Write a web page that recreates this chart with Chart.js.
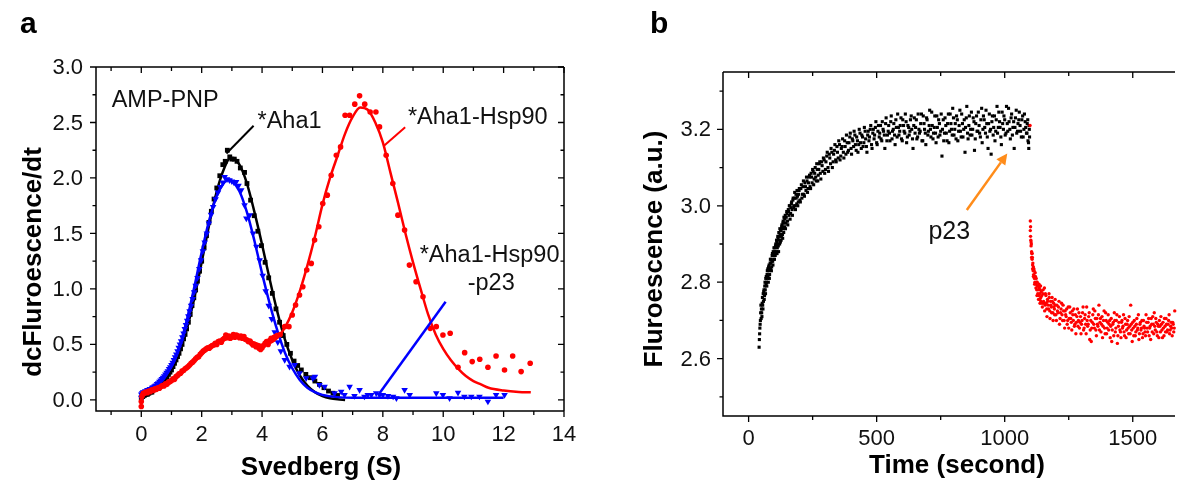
<!DOCTYPE html>
<html>
<head>
<meta charset="utf-8">
<script src="https://cdn.jsdelivr.net/npm/chart.js@4.4.1/dist/chart.umd.min.js"></script>
<style>
  html, body { margin: 0; padding: 0; background: #fff; overflow: hidden; }
  #wrap { position: relative; width: 1179px; height: 482px; }
  canvas { position: absolute; top: 0; }
  #chartSed { left: 0; }
  #chartKin { left: 600px; }
</style>
</head>
<body>
<div id="wrap">
  <canvas id="chartSed" width="600" height="482"></canvas>
  <canvas id="chartKin" width="579" height="482"></canvas>
</div>
<script>
// ---- panel a: sedimentation profiles (Svedberg vs dc/dt) ----
const sedTicksX = [0, 2, 4, 6, 8, 10, 12, 14];
const sedMinorX = [-1, 1, 3, 5, 7, 9, 11, 13];
const sedTicksY = [0, 0.5, 1.0, 1.5, 2.0, 2.5, 3.0];
const sedMinorY = [0.25, 0.75, 1.25, 1.75, 2.25, 2.75];

// *Aha1 (black squares) and its fit
const aha1Data = [
  [0.0,0.02],[0.05,0.03],[0.1,0.04],[0.15,0.05],[0.2,0.05],[0.25,0.06],[0.3,0.07],[0.35,0.07],[0.4,0.09],[0.45,0.10],
  [0.5,0.11],[0.55,0.12],[0.6,0.13],[0.65,0.14],[0.7,0.16],[0.75,0.17],[0.8,0.19],[0.85,0.21],[0.9,0.23],[0.95,0.25],
  [1.0,0.27],[1.05,0.30],[1.1,0.33],[1.15,0.36],[1.2,0.39],[1.25,0.42],[1.3,0.46],[1.35,0.50],[1.4,0.55],[1.45,0.59],
  [1.5,0.64],[1.56,0.70],[1.62,0.77],[1.68,0.85],[1.74,0.92],[1.8,0.99],[1.86,1.07],[1.93,1.16],[2.0,1.25],[2.08,1.37],
  [2.16,1.48],[2.24,1.60],[2.32,1.70],[2.41,1.81],[2.5,1.91],[2.6,2.02],[2.7,2.12],[2.78,2.15],[2.85,2.25],[2.93,2.19],
  [3.0,2.17],[3.08,2.17],[3.17,2.15],[3.28,2.09],[3.42,2.05],[3.5,1.95],[3.62,1.80],[3.74,1.66],[3.86,1.52],[3.98,1.39],
  [4.1,1.24],[4.22,1.10],[4.34,0.96],[4.46,0.82],[4.58,0.70],[4.7,0.58],[4.82,0.50],[4.94,0.42],[5.06,0.35],[5.18,0.31],
  [5.3,0.27],[5.45,0.23],[5.6,0.20],[5.75,0.17],[5.9,0.14],[6.05,0.11],[6.2,0.08],[6.35,0.06],[6.5,0.04]
];
const aha1Fit = [
  [0,0.03],[0.25,0.055],[0.5,0.10],[0.75,0.165],[1.0,0.27],[1.25,0.42],[1.5,0.63],[1.75,0.91],[2.0,1.24],[2.25,1.58],
  [2.5,1.88],[2.75,2.09],[2.95,2.18],[3.0,2.18],[3.25,2.12],[3.5,1.95],[3.75,1.69],[4.0,1.40],[4.25,1.09],[4.5,0.80],
  [4.75,0.55],[5.0,0.36],[5.25,0.22],[5.5,0.13],[5.75,0.07],[6.0,0.035],[6.25,0.015],[6.5,0.005],[6.75,0.0]
];

// *Aha1-Hsp90-p23 (blue triangles) and its fit
const p23Data = [
  [0.0,0.02],[0.0,0.05],[0.03,0.06],[0.06,0.07],[0.1,0.065],[0.13,0.08],[0.17,0.075],[0.2,0.09],[0.24,0.085],[0.28,0.10],
  [0.32,0.095],[0.36,0.11],[0.4,0.115],[0.44,0.125],[0.48,0.13],[0.52,0.145],[0.56,0.15],[0.6,0.165],[0.64,0.175],[0.68,0.19],
  [0.72,0.20],[0.76,0.215],[0.8,0.23],[0.84,0.245],[0.88,0.26],[0.92,0.28],[0.96,0.295],[1.0,0.315],[1.04,0.335],[1.08,0.36],
  [1.12,0.385],[1.16,0.41],[1.2,0.44],[1.24,0.47],[1.28,0.50],[1.32,0.53],[1.36,0.565],[1.4,0.60],[1.44,0.64],[1.48,0.675],
  [1.52,0.715],[1.56,0.755],[1.6,0.80],[1.65,0.85],[1.7,0.91],[1.75,0.97],[1.8,1.03],[1.86,1.10],[1.92,1.18],[1.98,1.26],
  [2.04,1.34],[2.1,1.42],[2.17,1.50],[2.24,1.59],[2.31,1.67],[2.38,1.74],[2.46,1.81],[2.54,1.87],[2.62,1.92],[2.7,1.96],
  [2.76,2.01],[2.84,1.99],[2.92,1.98],[3.0,1.97],[3.07,1.96],[3.14,1.965],[3.22,1.93],[3.31,1.89],[3.42,1.755],[3.48,1.635],
  [3.59,1.665],[3.7,1.50],[3.81,1.38],[3.92,1.26],[4.02,1.12],[4.12,0.98],[4.22,0.85],[4.32,0.73],[4.42,0.61],[4.52,0.52],
  [4.62,0.44],[4.75,0.36],[4.91,0.30],[5.08,0.315],[5.24,0.24],[5.46,0.195],[5.68,0.195],[5.75,0.21],[5.9,0.135],[6.07,0.12],
  [6.4,0.06],[6.62,0.075],[6.73,0.045],[6.9,0.12],[7.06,0.035],[7.23,0.09],[7.39,0.03],[7.5,0.045],[7.62,0.045],[7.78,0.06],
  [7.89,0.045],[8.0,0.045],[8.17,0.035],[8.34,0.03],[8.45,0.015],[8.72,0.09],[8.89,0.045],[9.77,0.06],[9.99,0.045],[10.21,0.015],
  [10.49,0.066],[10.7,0.03],[10.93,0.03],[11.2,0.03],[11.48,-0.015],[11.75,0.045],[12.03,0.045]
];
const p23Fit = [
  [0,0.04],[0.25,0.07],[0.5,0.12],[0.75,0.19],[1.0,0.31],[1.25,0.47],[1.5,0.71],[1.75,1.01],[2.0,1.33],[2.25,1.62],
  [2.5,1.84],[2.75,1.96],[2.9,1.985],[3.0,1.975],[3.25,1.88],[3.5,1.69],[3.75,1.43],[4.0,1.14],[4.25,0.87],[4.5,0.63],
  [4.75,0.43],[5.0,0.285],[5.25,0.18],[5.5,0.11],[5.75,0.07],[6.0,0.045],[6.5,0.025],[7.0,0.02],[8.0,0.02],[12.0,0.02]
];

// *Aha1-Hsp90 (red circles) and its fit
const hsp90Data = [
  [0.0,-0.06],[0.0,-0.015],[0.02,0.03],[0.05,0.05],[0.1,0.06],[0.15,0.07],[0.2,0.065],[0.25,0.08],[0.3,0.075],[0.35,0.09],
  [0.4,0.085],[0.45,0.10],[0.5,0.095],[0.55,0.11],[0.6,0.105],[0.65,0.12],[0.7,0.13],[0.75,0.125],[0.8,0.145],[0.85,0.14],
  [0.9,0.16],[0.95,0.165],[1.0,0.175],[1.05,0.19],[1.1,0.185],[1.15,0.21],[1.2,0.22],[1.25,0.235],[1.3,0.24],[1.35,0.26],
  [1.4,0.265],[1.45,0.28],[1.5,0.29],[1.55,0.30],[1.6,0.315],[1.65,0.33],[1.7,0.34],[1.75,0.355],[1.8,0.37],[1.85,0.385],
  [1.9,0.39],[1.95,0.41],[2.0,0.425],[2.05,0.44],[2.1,0.45],[2.15,0.46],[2.2,0.47],[2.25,0.465],[2.3,0.48],[2.35,0.49],
  [2.4,0.495],[2.45,0.51],[2.5,0.50],[2.55,0.525],[2.6,0.53],[2.65,0.52],[2.7,0.545],[2.75,0.555],[2.8,0.585],[2.85,0.56],
  [2.9,0.575],[2.95,0.555],[3.0,0.57],[3.05,0.59],[3.1,0.565],[3.15,0.585],[3.2,0.575],[3.25,0.56],[3.3,0.575],[3.35,0.555],
  [3.4,0.57],[3.45,0.545],[3.5,0.54],[3.55,0.525],[3.6,0.53],[3.65,0.51],[3.7,0.495],[3.75,0.50],[3.8,0.48],[3.85,0.49],
  [3.9,0.465],[3.95,0.455],[4.0,0.47],[4.05,0.49],[4.1,0.51],[4.15,0.525],[4.2,0.50],[4.25,0.535],[4.3,0.555],[4.35,0.545],
  [4.4,0.565],[4.45,0.57],[4.5,0.58],[4.6,0.59],[4.75,0.66],[4.89,0.66],[5.0,0.765],[5.11,0.855],[5.24,0.945],[5.35,1.02],
  [5.48,1.17],[5.63,1.23],[5.74,1.44],[5.88,1.56],[6.01,1.77],[6.16,1.845],[6.29,2.025],[6.46,2.205],[6.6,2.28],[6.75,2.565],
  [6.9,2.565],[7.07,2.665],[7.23,2.74],[7.4,2.665],[7.58,2.595],[7.77,2.595],[7.89,2.46],[8.11,2.205],[8.33,1.95],[8.5,1.665],
  [8.72,1.53],[8.88,1.215],[9.1,1.065],[9.33,0.93],[9.57,0.645],[9.77,0.66],[9.99,0.585],[10.23,0.60],[10.49,0.294],[10.71,0.426],
  [10.96,0.345],[11.21,0.366],[11.48,0.294],[11.75,0.396],[12.03,0.27],[12.3,0.396],[12.58,0.255],[12.88,0.33]
];
const hsp90Fit = [
  [0,0.07],[0.5,0.10],[1.0,0.16],[1.5,0.28],[2.0,0.41],[2.5,0.51],[3.0,0.565],[3.25,0.57],[3.5,0.55],[3.75,0.515],
  [4.0,0.495],[4.25,0.51],[4.5,0.56],[4.75,0.65],[5.0,0.79],[5.25,0.98],[5.5,1.21],[5.75,1.47],[6.0,1.76],[6.25,2.0],
  [6.5,2.2],[6.75,2.40],[7.0,2.55],[7.25,2.635],[7.5,2.615],[7.75,2.50],[8.0,2.32],[8.25,2.05],[8.5,1.78],[8.75,1.50],
  [9.0,1.24],[9.25,1.00],[9.5,0.77],[9.75,0.59],[10.0,0.46],[10.25,0.36],[10.5,0.28],[10.75,0.215],[11.0,0.17],[11.25,0.14],
  [11.5,0.11],[12.0,0.085],[12.5,0.072],[12.9,0.068]
];

// ---- panel b: fluorescence kinetics, p23 added at ~1100 s ----
const kinTicksX = [0, 500, 1000, 1500];
const kinMinorX = [250, 750, 1250];
const kinTicksY = [2.6, 2.8, 3.0, 3.2];
const kinMinorY = [2.5, 2.7, 2.9, 3.1, 3.3];

const beforeP23 = [
  [41,2.63],[42,2.65],[43,2.665],[45,2.69],[47,2.72],[49,2.705],[50,2.73],[52,2.71],[54,2.76],[55,2.74],
  [57,2.77],[58,2.75],[60,2.78],[62,2.765],[63,2.79],[65,2.78],[67,2.81],[68,2.795],[70,2.80],[72,2.82],
  [74,2.81],[75,2.835],[77,2.80],[79,2.83],[80,2.845],[82,2.82],[84,2.85],[86,2.835],[88,2.86],[90,2.84],
  [92,2.87],[94,2.855],[96,2.88],[98,2.86],[100,2.875],[102,2.89],[104,2.87],[106,2.90],[108,2.88],[110,2.905],
  [112,2.89],[114,2.92],[116,2.895],[118,2.93],[120,2.91],[122,2.94],[124,2.905],[126,2.935],[128,2.92],[130,2.95],
  [132,2.925],[134,2.955],[136,2.94],[138,2.97],[140,2.945],[143,2.975],[146,2.955],[149,2.985],[152,2.96],[155,2.99],
  [158,2.975],[161,3.0],[164,2.98],[167,3.005],[170,2.99],[173,3.015],[176,2.995],[179,3.02],[182,3.0],[185,3.03],
  [188,3.005],[191,3.025],[194,3.01],[197,3.04],[200,3.015],[204,3.045],[208,3.02],[212,3.05],[216,3.03],[220,3.06],
  [224,3.04],[228,3.065],[232,3.045],[236,3.075],[240,3.05],[244,3.085],[248,3.06],[252,3.09],[256,3.07],[260,3.10],
  [264,3.065],[268,3.095],[272,3.08],[276,3.11],[280,3.085],[285,3.115],[290,3.09],[295,3.12],[300,3.095],[305,3.13],
  [310,3.10],[315,3.135],[320,3.11],[325,3.14],[330,3.115],[335,3.145],[340,3.12],[345,3.155],[350,3.125],[355,3.16],
  [360,3.13],[365,3.155],[370,3.14],[375,3.17],[380,3.135],[385,3.165],[390,3.145],[395,3.18],[400,3.15],[405,3.175],
  [410,3.155],[415,3.185],[420,3.145],[425,3.17],[430,3.16],[435,3.19],[440,3.15],[445,3.18],[450,3.165],[455,3.195],
  [460,3.155],[465,3.185],[470,3.17],[475,3.20],[480,3.16],[485,3.19],[490,3.175],[495,3.205],[500,3.165],[505,3.195],
  [510,3.18],[515,3.21],[520,3.17],[525,3.20],[530,3.185],[535,3.215],[540,3.17],[545,3.195],[550,3.19],[555,3.22],
  [560,3.175],[565,3.20],[570,3.185],[575,3.225],[580,3.18],[585,3.205],[590,3.195],[595,3.23],[600,3.17],[605,3.21],
  [610,3.19],[615,3.22],[620,3.18],[625,3.205],[630,3.195],[635,3.235],[640,3.175],[645,3.21],[650,3.19],[655,3.225],
  [660,3.18],[665,3.20],[670,3.195],[675,3.24],[680,3.17],[685,3.215],[690,3.19],[695,3.23],[700,3.185],[705,3.21],
  [710,3.20],[715,3.245],[720,3.175],[725,3.205],[730,3.19],[735,3.235],[740,3.18],[745,3.215],[750,3.195],[755,3.13],
  [760,3.225],[765,3.19],[770,3.21],[775,3.17],[780,3.24],[785,3.195],[790,3.215],[795,3.185],[800,3.23],[805,3.20],
  [810,3.175],[815,3.225],[820,3.195],[825,3.25],[830,3.18],[835,3.215],[840,3.20],[845,3.14],[850,3.23],[855,3.19],
  [860,3.21],[865,3.185],[870,3.245],[875,3.20],[880,3.22],[885,3.175],[890,3.235],[895,3.195],[900,3.21],[905,3.18],
  [910,3.255],[915,3.20],[920,3.225],[925,3.19],[930,3.215],[935,3.15],[940,3.24],[945,3.20],[950,3.22],[955,3.185],
  [960,3.235],[965,3.195],[970,3.26],[975,3.205],[980,3.22],[985,3.18],[990,3.245],[995,3.20],[1000,3.225],[1005,3.19],
  [1010,3.215],[1015,3.255],[1020,3.20],[1025,3.23],[1030,3.185],[1035,3.22],[1040,3.205],[1045,3.25],[1050,3.195],[1055,3.225],
  [1060,3.21],[1065,3.18],[1070,3.235],[1075,3.20],[1080,3.22],[1085,3.19],[1088,3.215],[1091,3.17],[1094,3.15],[1096,3.20],
  [44,2.68],[46,2.70],[48,2.74],[51,2.72],[53,2.745],[56,2.73],[59,2.775],[61,2.755],[64,2.80],[66,2.77],
  [69,2.815],[71,2.79],[73,2.83],[76,2.815],[78,2.84],[81,2.81],[83,2.835],[85,2.86],[87,2.85],[89,2.83],
  [91,2.855],[93,2.875],[95,2.845],[97,2.87],[99,2.89],[101,2.86],[103,2.88],[105,2.895],[107,2.875],[109,2.91],
  [111,2.875],[113,2.90],[115,2.915],[117,2.88],[119,2.92],[121,2.90],[123,2.925],[125,2.935],[127,2.91],[129,2.945],
  [131,2.94],[133,2.915],[135,2.96],[137,2.93],[139,2.955],[141,2.965],[144,2.94],[147,2.97],[150,2.98],[153,2.95],
  [156,2.985],[159,3.0],[162,2.965],[165,2.995],[168,3.01],[171,2.975],[174,3.02],[177,3.0],[180,3.035],[183,2.99],
  [186,3.02],[189,3.04],[192,3.0],[195,3.03],[198,3.045],[202,3.01],[206,3.055],[210,3.03],[214,3.065],[218,3.025],
  [222,3.05],[226,3.075],[230,3.035],[234,3.06],[238,3.08],[242,3.045],[246,3.075],[250,3.095],[254,3.055],[258,3.085],
  [262,3.075],[266,3.11],[270,3.065],[274,3.095],[278,3.115],[282,3.07],[287,3.105],[292,3.125],[297,3.085],[302,3.115],
  [307,3.14],[312,3.09],[317,3.125],[322,3.15],[327,3.10],[332,3.135],[337,3.16],[342,3.115],[347,3.14],[352,3.17],
  [357,3.12],[362,3.15],[367,3.175],[372,3.125],[377,3.155],[382,3.185],[387,3.14],[392,3.165],[397,3.19],[402,3.135],
  [407,3.17],[412,3.195],[417,3.16],[422,3.18],[427,3.14],[432,3.20],[437,3.165],[442,3.185],[447,3.155],[452,3.205],
  [457,3.175],[462,3.14],[467,3.195],[472,3.18],[477,3.21],[482,3.15],[487,3.20],[492,3.185],[497,3.22],[502,3.16],
  [507,3.21],[512,3.19],[517,3.175],[522,3.22],[527,3.195],[532,3.15],[537,3.23],[542,3.185],[547,3.21],[552,3.17],
  [557,3.235],[562,3.195],[567,3.215],[572,3.16],[577,3.205],[582,3.24],[587,3.185],[592,3.21],[597,3.175],[602,3.225],
  [607,3.195],[612,3.24],[617,3.165],[622,3.21],[627,3.185],[632,3.225],[637,3.20],[642,3.15],[647,3.23],[652,3.205],
  [657,3.175],[662,3.24],[667,3.19],[672,3.215],[677,3.17],[682,3.235],[687,3.20],[692,3.16],[697,3.225],[702,3.195],
  [707,3.25],[712,3.18],[717,3.21],[722,3.19],[727,3.235],[732,3.165],[737,3.205],[742,3.225],[747,3.185],[752,3.24],
  [757,3.20],[762,3.17],[767,3.23],[772,3.19],[777,3.215],[782,3.165],[787,3.24],[792,3.20],[797,3.255],[802,3.185],
  [807,3.215],[812,3.235],[817,3.17],[822,3.21],[827,3.195],[832,3.24],[837,3.18],[842,3.225],[847,3.205],[852,3.26],
  [857,3.175],[862,3.235],[867,3.20],[872,3.185],[877,3.23],[882,3.145],[887,3.215],[892,3.195],[897,3.245],[902,3.19],
  [907,3.225],[912,3.165],[917,3.235],[922,3.205],[927,3.25],[932,3.18],[937,3.215],[942,3.195],[947,3.135],[952,3.235],
  [957,3.205],[962,3.17],[967,3.225],[972,3.19],[977,3.245],[982,3.205],[987,3.16],[992,3.215],[997,3.235],[1002,3.185],
  [1007,3.26],[1012,3.195],[1017,3.22],[1022,3.175],[1027,3.24],[1032,3.205],[1037,3.15],[1042,3.23],[1047,3.19],[1052,3.215],
  [1057,3.245],[1062,3.195],[1067,3.225],[1072,3.18],[1077,3.24],[1082,3.205],[1087,3.19],[1090,3.225],[1093,3.165],[1095,3.21],
  [1097,3.18]
];
const afterP23 = [
  [1099,3.21],[1100,2.96],[1100,2.935],[1102,2.91],[1103,2.895],[1104,2.90],[1105,2.88],[1106,2.875],[1107,2.86],[1108,2.865],
  [1109,2.845],[1110,2.85],[1111,2.83],[1112,2.84],[1113,2.82],[1115,2.83],[1116,2.81],[1118,2.80],[1119,2.825],[1121,2.795],
  [1123,2.81],[1125,2.78],[1127,2.80],[1129,2.77],[1131,2.79],[1133,2.765],[1135,2.785],[1137,2.755],[1139,2.78],[1141,2.76],
  [1143,2.775],[1146,2.745],[1149,2.77],[1152,2.75],[1155,2.785],[1158,2.74],[1161,2.765],[1164,2.73],[1167,2.755],[1170,2.74],
  [1173,2.77],[1176,2.725],[1179,2.75],[1182,2.735],[1185,2.76],[1188,2.72],[1191,2.745],[1194,2.73],[1197,2.755],[1200,2.715],
  [1204,2.74],[1208,2.72],[1212,2.75],[1216,2.705],[1220,2.73],[1224,2.715],[1228,2.74],[1232,2.70],[1236,2.725],[1240,2.71],
  [1244,2.69],[1248,2.735],[1252,2.705],[1256,2.72],[1260,2.695],[1264,2.725],[1268,2.70],[1272,2.685],[1276,2.715],[1280,2.695],
  [1284,2.73],[1288,2.70],[1292,2.68],[1296,2.71],[1300,2.69],[1304,2.72],[1308,2.675],[1312,2.705],[1316,2.69],[1320,2.735],
  [1324,2.685],[1328,2.71],[1332,2.65],[1336,2.70],[1340,2.68],[1344,2.715],[1348,2.69],[1352,2.725],[1356,2.675],[1360,2.705],
  [1364,2.685],[1368,2.74],[1372,2.695],[1376,2.67],[1380,2.71],[1384,2.685],[1388,2.725],[1392,2.665],[1396,2.70],[1400,2.68],
  [1404,2.715],[1408,2.69],[1412,2.655],[1416,2.705],[1420,2.675],[1424,2.695],[1428,2.72],[1432,2.67],[1436,2.70],[1440,2.64],
  [1444,2.685],[1448,2.71],[1452,2.67],[1456,2.695],[1460,2.68],[1464,2.715],[1468,2.66],[1472,2.69],[1476,2.675],[1480,2.70],
  [1484,2.665],[1488,2.685],[1492,2.74],[1496,2.675],[1500,2.695],[1504,2.66],[1508,2.685],[1512,2.67],[1516,2.705],[1520,2.68],
  [1524,2.65],[1528,2.69],[1532,2.675],[1536,2.70],[1540,2.665],[1544,2.685],[1548,2.67],[1552,2.715],[1556,2.68],[1560,2.695],
  [1564,2.66],[1568,2.685],[1572,2.705],[1576,2.67],[1580,2.69],[1584,2.72],[1588,2.675],[1592,2.695],[1596,2.66],[1600,2.685],
  [1604,2.70],[1608,2.67],[1612,2.69],[1616,2.655],[1620,2.68],[1624,2.705],[1628,2.67],[1632,2.69],[1636,2.675],[1640,2.70],
  [1644,2.665],[1648,2.685],[1652,2.68],[1656,2.695],[1660,2.67],[1664,2.725],
  [1101,2.945],[1101,2.92],[1103,2.905],[1105,2.865],[1107,2.875],[1109,2.835],[1112,2.815],[1114,2.835],[1117,2.795],[1120,2.815],
  [1122,2.785],[1124,2.80],[1126,2.765],[1128,2.79],[1130,2.78],[1132,2.755],[1134,2.795],[1136,2.77],[1138,2.745],[1140,2.79],
  [1142,2.75],[1145,2.765],[1147,2.735],[1150,2.78],[1153,2.745],[1156,2.725],[1159,2.77],[1162,2.745],[1165,2.71],[1168,2.75],
  [1171,2.73],[1174,2.76],[1177,2.705],[1180,2.74],[1183,2.72],[1186,2.75],[1189,2.70],[1192,2.735],[1195,2.715],[1198,2.74],
  [1202,2.70],[1206,2.725],[1210,2.735],[1214,2.69],[1218,2.72],[1222,2.745],[1226,2.70],[1230,2.725],[1234,2.68],[1238,2.715],
  [1242,2.73],[1246,2.70],[1250,2.68],[1254,2.735],[1258,2.705],[1262,2.675],[1266,2.715],[1270,2.73],[1274,2.69],[1278,2.665],
  [1282,2.71],[1286,2.685],[1290,2.72],[1294,2.695],[1298,2.665],[1302,2.70],[1306,2.735],[1310,2.68],[1314,2.715],[1318,2.665],
  [1322,2.70],[1326,2.69],[1330,2.72],[1334,2.675],[1338,2.645],[1342,2.695],[1346,2.73],[1350,2.68],[1354,2.705],[1358,2.66],
  [1362,2.69],[1366,2.715],[1370,2.675],[1374,2.705],[1378,2.69],[1382,2.655],[1386,2.70],[1390,2.68],[1394,2.72],[1398,2.665],
  [1402,2.695],[1406,2.675],[1410,2.70],[1414,2.685],[1418,2.645],[1422,2.69],[1426,2.66],[1430,2.70],[1434,2.68],[1438,2.715],
  [1442,2.66],[1446,2.695],[1450,2.675],[1454,2.655],[1458,2.70],[1462,2.685],[1466,2.67],[1470,2.705],[1474,2.655],[1478,2.69],
  [1482,2.68],[1486,2.71],[1490,2.665],[1494,2.69],[1498,2.645],[1502,2.68],[1506,2.70],[1510,2.66],[1514,2.69],[1518,2.675],
  [1522,2.715],[1526,2.665],[1530,2.695],[1534,2.68],[1538,2.655],[1542,2.70],[1546,2.68],[1550,2.66],[1554,2.695],[1558,2.67],
  [1562,2.705],[1566,2.68],[1570,2.65],[1574,2.69],[1578,2.71],[1582,2.665],[1586,2.685],[1590,2.705],[1594,2.67],[1598,2.69],
  [1602,2.655],[1606,2.685],[1610,2.71],[1614,2.675],[1618,2.695],[1622,2.66],[1626,2.685],[1630,2.705],[1634,2.67],[1638,2.69],
  [1642,2.715],[1646,2.675],[1650,2.695],[1654,2.66],[1658,2.69],[1662,2.68]
];

const FONT = '"Liberation Sans", Arial, Helvetica, sans-serif';
const pts = arr => arr.map(([x, y]) => ({ x, y }));

// frame, mirrored ticks, tick labels, titles and call-outs (Origin style)
const framePlugin = {
  id: 'frame',
  afterDatasetsDraw(chart, args, o) {
    const ctx = chart.ctx;
    const { left, right, top, bottom } = chart.chartArea;
    const xs = chart.scales.x, ys = chart.scales.y;
    ctx.save();

    // call-out lines and arrows
    (o.pointers || []).forEach(p => {
      const x1 = xs.getPixelForValue(p.from[0]), y1 = ys.getPixelForValue(p.from[1]);
      const x2 = xs.getPixelForValue(p.to[0]), y2 = ys.getPixelForValue(p.to[1]);
      ctx.strokeStyle = p.color;
      ctx.fillStyle = p.color;
      ctx.lineWidth = p.width;
      ctx.beginPath();
      if (p.arrow) {
        const a = Math.atan2(y2 - y1, x2 - x1);
        const hx = x2 - 11 * Math.cos(a), hy = y2 - 11 * Math.sin(a);
        ctx.moveTo(x1, y1); ctx.lineTo(hx, hy); ctx.stroke();
        ctx.beginPath();
        ctx.moveTo(x2, y2);
        ctx.lineTo(hx + 5.5 * Math.sin(a), hy - 5.5 * Math.cos(a));
        ctx.lineTo(hx - 5.5 * Math.sin(a), hy + 5.5 * Math.cos(a));
        ctx.closePath();
        ctx.fill();
      } else {
        ctx.moveTo(x1, y1); ctx.lineTo(x2, y2); ctx.stroke();
      }
    });

    // frame
    ctx.strokeStyle = '#000';
    ctx.lineWidth = 1.5;
    ctx.beginPath();
    ctx.moveTo(left, top); ctx.lineTo(left, bottom); ctx.lineTo(right, bottom);
    ctx.moveTo(left, top); ctx.lineTo(right, top);
    if (o.rightBorder) { ctx.moveTo(right, top); ctx.lineTo(right, bottom); }
    ctx.stroke();

    // ticks: outward on left/bottom, inward on top/right
    ctx.lineWidth = 1.3;
    ctx.beginPath();
    const xTick = (v, len) => {
      const p = xs.getPixelForValue(v);
      ctx.moveTo(p, bottom); ctx.lineTo(p, bottom + len);
      ctx.moveTo(p, top); ctx.lineTo(p, top + len);
    };
    const yTick = (v, len) => {
      const p = ys.getPixelForValue(v);
      ctx.moveTo(left, p); ctx.lineTo(left - len, p);
      if (o.rightBorder) { ctx.moveTo(right, p); ctx.lineTo(right - len, p); }
    };
    o.xMajor.forEach(v => xTick(v, 6));
    o.xMinor.forEach(v => xTick(v, 4));
    o.yMajor.forEach(v => yTick(v, 6));
    o.yMinor.forEach(v => yTick(v, 3.5));
    ctx.stroke();

    // tick labels
    ctx.fillStyle = '#111';
    ctx.font = '22px ' + FONT;
    ctx.textAlign = 'center';
    ctx.textBaseline = 'alphabetic';
    o.xMajor.forEach(v => ctx.fillText(String(v), xs.getPixelForValue(v), bottom + o.xLabelGap));
    ctx.textAlign = 'right';
    ctx.textBaseline = 'middle';
    o.yMajor.forEach(v => ctx.fillText(v.toFixed(1), left - o.yLabelGap, ys.getPixelForValue(v) + 1));

    // axis titles
    ctx.fillStyle = '#000';
    ctx.font = 'bold 26px ' + FONT;
    ctx.textAlign = 'center';
    ctx.textBaseline = 'alphabetic';
    ctx.fillText(o.xTitle.text, o.xTitle.x, o.xTitle.y);
    ctx.save();
    ctx.translate(o.yTitle.x, o.yTitle.y);
    ctx.rotate(-Math.PI / 2);
    ctx.fillText(o.yTitle.text, 0, 0);
    ctx.restore();

    // panel letter
    ctx.font = 'bold 30px ' + FONT;
    ctx.textAlign = 'left';
    ctx.fillText(o.panel.text, o.panel.x, o.panel.y);

    // text notes placed in data units
    ctx.fillStyle = '#111';
    (o.notes || []).forEach(n => {
      ctx.font = n.size + 'px ' + FONT;
      ctx.textAlign = 'left';
      ctx.fillText(n.text, xs.getPixelForValue(n.x), ys.getPixelForValue(n.y));
    });
    ctx.restore();
  }
};

const baseOptions = {
  responsive: false,
  animation: false,
  events: [],
  plugins: { legend: { display: false }, tooltip: { enabled: false } }
};

const fitLine = (data, color, order) => ({
  data: pts(data), showLine: true, borderColor: color, borderWidth: 2.5,
  pointRadius: 0, cubicInterpolationMode: 'monotone', order, clip: false
});
const marks = (data, color, style, radius, order, rotation) => ({
  data: pts(data), showLine: false, pointStyle: style, pointRadius: radius,
  pointRotation: rotation || 0, backgroundColor: color, borderColor: color,
  pointBorderWidth: 0, order, clip: false
});

new Chart(document.getElementById('chartSed'), {
  type: 'scatter',
  data: {
    datasets: [
      marks(aha1Data, '#000000', 'rect', 3.4, 6),
      fitLine(aha1Fit, '#000000', 5),
      marks(p23Data, '#0000ff', 'triangle', 3.8, 4, 180),
      fitLine(p23Fit, '#0000ff', 3),
      marks(hsp90Data, '#ff0000', 'circle', 2.8, 2),
      fitLine(hsp90Fit, '#ff0000', 1)
    ]
  },
  options: {
    ...baseOptions,
    layout: { padding: { left: 96, top: 67, right: 36, bottom: 71 } },
    scales: {
      x: { type: 'linear', min: -1.5, max: 14, display: false },
      y: { type: 'linear', min: -0.1, max: 3.0, display: false }
    },
    plugins: {
      ...baseOptions.plugins,
      frame: {
        rightBorder: true,
        xMajor: sedTicksX, xMinor: sedMinorX, yMajor: sedTicksY, yMinor: sedMinorY,
        xLabelGap: 30, yLabelGap: 13,
        xTitle: { text: 'Svedberg (S)', x: 321, y: 475 },
        yTitle: { text: 'dcFluroescence/dt', x: 41, y: 262 },
        panel: { text: 'a', x: 20, y: 33 },
        notes: [
          { text: 'AMP-PNP', x: -0.98, y: 2.64, size: 23.5 },
          { text: '*Aha1', x: 3.85, y: 2.45, size: 23.5 },
          { text: '*Aha1-Hsp90', x: 8.83, y: 2.484, size: 23.5 },
          { text: '*Aha1-Hsp90', x: 9.22, y: 1.245, size: 23.5 },
          { text: '-p23', x: 10.81, y: 0.99, size: 23.5 }
        ],
        pointers: [
          { from: [3.72, 2.47], to: [2.82, 2.22], color: '#000000', width: 2 },
          { from: [8.74, 2.457], to: [8.02, 2.286], color: '#ff0000', width: 2 },
          { from: [10.08, 0.885], to: [7.89, 0.06], color: '#0000ff', width: 2.5 }
        ]
      }
    }
  },
  plugins: [framePlugin]
});

new Chart(document.getElementById('chartKin'), {
  type: 'scatter',
  data: {
    datasets: [
      marks(beforeP23, '#000000', 'rect', 2.2, 2),
      marks(afterP23, '#ff0000', 'circle', 1.7, 1)
    ]
  },
  options: {
    ...baseOptions,
    layout: { padding: { left: 123, top: 72, right: 0, bottom: 66 } },
    scales: {
      x: { type: 'linear', min: -100, max: 1665, display: false },
      y: { type: 'linear', min: 2.45, max: 3.35, display: false }
    },
    plugins: {
      ...baseOptions.plugins,
      frame: {
        rightBorder: false,
        xMajor: kinTicksX, xMinor: kinMinorX, yMajor: kinTicksY, yMinor: kinMinorY,
        xLabelGap: 29, yLabelGap: 12,
        xTitle: { text: 'Time (second)', x: 357, y: 473 },
        yTitle: { text: 'Fluroescence (a.u.)', x: 62, y: 249 },
        panel: { text: 'b', x: 50, y: 33 },
        notes: [
          { text: 'p23', x: 702, y: 2.912, size: 25 }
        ],
        pointers: [
          { from: [852, 2.989], to: [1010, 3.137], color: '#ff8c1a', width: 2.5, arrow: true }
        ]
      }
    }
  },
  plugins: [framePlugin]
});
</script>
</body>
</html>
